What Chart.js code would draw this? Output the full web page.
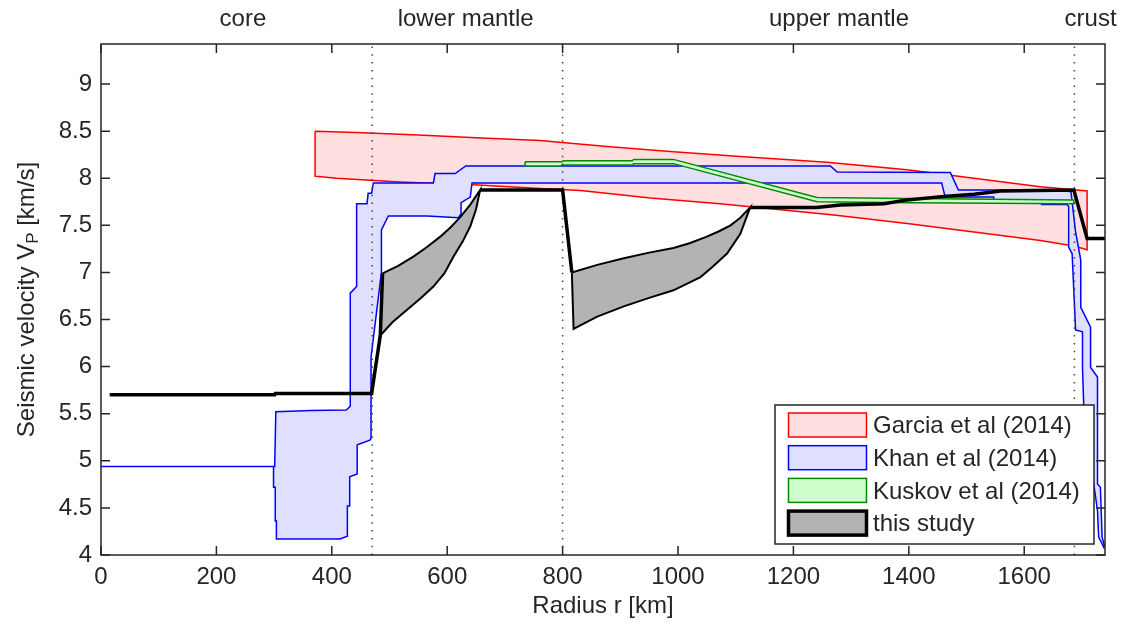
<!DOCTYPE html>
<html>
<head>
<meta charset="utf-8">
<script src="https://cdn.jsdelivr.net/npm/chart.js@4.4.1/dist/chart.umd.min.js"></script>
<style>
    html, body { margin: 0; padding: 0; background: #fff; }
    #wrap { width: 1124px; height: 624px; }
</style>
</head>
<body>
<div id="wrap"><canvas id="vp-profil" width="1124" height="624"></canvas></div>
<script>

// Achsen: Radius in km, Geschwindigkeit in km/s
const rMax = 1740;
const vMin = 4;
const vMax = 9.425;
const xTicks = [0, 200, 400, 600, 800, 1000, 1200, 1400, 1600];
const yTicks = [4, 4.5, 5, 5.5, 6, 6.5, 7, 7.5, 8, 8.5, 9];

// Schichtgrenzen (gepunktet) und Beschriftung oben
const grenzen = [470, 800, 1687];
const schichtNamen = ['core', 'lower mantle', 'upper mantle', 'crust'];
const schichtMitte = [246, 632, 1279, 1715];

// Garcia et al (2014)
const garciaObenR = [371, 442, 550, 650, 761, 877, 992, 1108, 1258, 1397, 1513, 1628, 1709];
const garciaObenV = [8.50, 8.485, 8.46, 8.43, 8.40, 8.336, 8.28, 8.23, 8.17, 8.09, 8.00, 7.91, 7.865];
const garciaUntenR = [372, 408, 518, 645, 761, 831, 952, 1073, 1270, 1397, 1513, 1628, 1686, 1709];
const garciaUntenV = [8.02, 8.0, 7.96, 7.93, 7.89, 7.87, 7.79, 7.73, 7.61, 7.52, 7.43, 7.34, 7.28, 7.24];

// Khan et al (2014): aeusserer und innerer Rand, jeweils von r=0 bis zur Oberflaeche
const khanObenR = [0, 301, 303, 364, 425, 432, 432, 443, 443, 461, 463, 469, 472, 576, 579, 614, 632, 1264, 1276, 1472, 1486, 1628, 1681, 1686, 1689, 1698, 1698, 1715, 1715, 1727, 1727, 1732, 1735, 1739];
const khanObenV = [4.94, 4.94, 5.52, 5.535, 5.54, 5.58, 6.78, 6.85, 7.73, 7.73, 7.84, 7.84, 7.95, 7.95, 8.05, 8.05, 8.13, 8.13, 8.065, 8.06, 7.875, 7.875, 7.86, 7.59, 7.43, 7.13, 6.63, 6.42, 5.99, 5.89, 4.755, 4.72, 4.19, 4.10];
const khanUntenR = [0, 299, 299, 302, 302, 304, 304, 414, 427, 427, 431, 431, 444, 444, 466, 468, 468, 486, 486, 498, 565, 619, 624, 624, 640, 643, 1457, 1463, 1547, 1547, 1628, 1630, 1674, 1677, 1677, 1683, 1689, 1701, 1701, 1703, 1715, 1727, 1729, 1738];
const khanUntenV = [4.94, 4.94, 4.72, 4.72, 4.36, 4.36, 4.17, 4.17, 4.20, 4.52, 4.52, 4.83, 4.86, 5.17, 5.22, 5.24, 6.10, 7.0, 7.45, 7.60, 7.60, 7.58, 7.62, 7.74, 7.80, 7.95, 7.95, 7.80, 7.80, 7.77, 7.77, 7.72, 7.72, 7.70, 7.27, 7.20, 6.39, 6.37, 5.99, 5.61, 5.0, 4.47, 4.19, 4.08];

// Kuskov et al (2014)
const kuskovObenR = [735, 799, 801, 921, 923, 992, 1241, 1400, 1686];
const kuskovObenV = [8.175, 8.175, 8.185, 8.185, 8.20, 8.20, 7.795, 7.785, 7.77];
const kuskovUntenR = [735, 797, 799, 921, 923, 992, 1241, 1400, 1686];
const kuskovUntenV = [8.13, 8.13, 8.14, 8.14, 8.155, 8.155, 7.75, 7.74, 7.73];

// this study: Profil (null = Unterbruch) und die beiden Unsicherheitsbereiche
const studieR = [15, 301, 302, 469, 484, 488, 560, 657, 800, 816, 970, 1125, 1240, 1281, 1357, 1397, 1466, 1513, 1559, 1686, 1709, 1740];
const studieV = [5.70, 5.70, 5.715, 5.715, 6.33, 6.99, null, 7.875, 7.875, 7.0, null, 7.69, 7.69, 7.715, 7.73, 7.77, 7.81, 7.83, 7.865, 7.875, 7.36, 7.36];
const unten1ObenR = [488, 515, 542, 565, 588, 606, 623, 640, 657];
const unten1ObenV = [6.99, 7.07, 7.17, 7.27, 7.38, 7.48, 7.59, 7.72, 7.875];
const unten1UntenR = [484, 505, 530, 555, 576, 595, 611, 627, 640, 650, 657];
const unten1UntenV = [6.33, 6.47, 6.60, 6.73, 6.85, 6.99, 7.17, 7.33, 7.49, 7.67, 7.875];
const oben2ObenR = [816, 860, 906, 950, 992, 1020, 1050, 1072, 1091, 1108, 1125];
const oben2ObenV = [7.0, 7.08, 7.15, 7.21, 7.26, 7.31, 7.38, 7.44, 7.50, 7.58, 7.69];
const oben2UntenR = [819, 860, 906, 950, 992, 1039, 1060, 1085, 1108, 1125];
const oben2UntenV = [6.40, 6.53, 6.64, 6.73, 6.81, 6.95, 7.06, 7.20, 7.41, 7.69];

const textFarbe = '#262626';
const schrift = 'Liberation Sans, Arial, Helvetica, sans-serif';

Chart.defaults.font.family = schrift;
Chart.defaults.font.size = 24;
Chart.defaults.color = textFarbe;

function punkte(rs, vs) {
    return rs.map(function (r, i) {
        return {x: r, y: vs[i]};
    });
}

function flaeche(obenR, obenV, untenR, untenV) {
    /*
        Schliesst oberen und unteren Rand zu einem Polygon.
     */
    let oben = punkte(obenR, obenV);
    let unten = punkte(untenR, untenV).reverse();
    return oben.concat(unten, [oben[0]]);
}

function band(label, data, rand, fuellung, order, breite = 1.5) {
    return {
        label: label,
        data: data,
        showLine: true,
        fill: 'shape',
        borderColor: rand,
        backgroundColor: fuellung,
        borderWidth: breite,
        pointRadius: 0,
        pointHoverRadius: 0,
        tension: 0,
        order: order
    };
}

let datasets = [
    band('Garcia et al (2014)', flaeche(garciaObenR, garciaObenV, garciaUntenR, garciaUntenV), '#ff0000', '#ffdfdf', 6),
    band('Khan et al (2014)', flaeche(khanObenR, khanObenV, khanUntenR, khanUntenV), '#0000ff', '#e0e0fe', 5),
    band('Kuskov et al (2014)', flaeche(kuskovObenR, kuskovObenV, kuskovUntenR, kuskovUntenV), '#008a00', '#ccffcc', 4),
    band('this study', flaeche(unten1ObenR, unten1ObenV, unten1UntenR, unten1UntenV), '#000000', '#b3b3b3', 3, 2),
    band('', flaeche(oben2ObenR, oben2ObenV, oben2UntenR, oben2UntenV), '#000000', '#b3b3b3', 3, 2)
];
datasets[3].legendRand = 3.5;

for (let i = 0; i < grenzen.length; i++) {
    datasets.push({
        label: '',
        data: [{x: grenzen[i], y: vMin}, {x: grenzen[i], y: vMax}],
        showLine: true,
        borderColor: '#444444',
        borderWidth: 1.5,
        borderDash: [1.5, 6.3],
        pointRadius: 0,
        fill: false,
        order: 2
    });
}

datasets.push({
    label: '',
    data: punkte(studieR, studieV),
    showLine: true,
    spanGaps: false,
    borderColor: '#000000',
    borderWidth: 3.5,
    pointRadius: 0,
    fill: false,
    order: 1
});

const rahmen = {
    id: 'rahmen',
    afterDraw(chart) {
        /*
            Achsenrahmen mit Ticks nach innen, Schichtnamen, y-Titel mit Index und Legende.
         */
        const ctx = chart.ctx;
        const a = chart.chartArea;
        const x = chart.scales.x;
        const y = chart.scales.y;
        const tl = 9;

        ctx.save();
        ctx.strokeStyle = textFarbe;
        ctx.lineWidth = 1.5;
        ctx.strokeRect(a.left, a.top, a.right - a.left, a.bottom - a.top);
        ctx.beginPath();
        for (let i = 0; i < xTicks.length; i++) {
            let px = x.getPixelForValue(xTicks[i]);
            ctx.moveTo(px, a.bottom);
            ctx.lineTo(px, a.bottom - tl);
            ctx.moveTo(px, a.top);
            ctx.lineTo(px, a.top + tl);
        }
        for (let i = 0; i < yTicks.length; i++) {
            let py = y.getPixelForValue(yTicks[i]);
            ctx.moveTo(a.left, py);
            ctx.lineTo(a.left + tl, py);
            ctx.moveTo(a.right, py);
            ctx.lineTo(a.right - tl, py);
        }
        ctx.stroke();

        // Schichtnamen
        ctx.fillStyle = textFarbe;
        ctx.font = '24px ' + schrift;
        ctx.textAlign = 'center';
        ctx.textBaseline = 'alphabetic';
        for (let i = 0; i < schichtNamen.length; i++) {
            ctx.fillText(schichtNamen[i], x.getPixelForValue(schichtMitte[i]), 26);
        }

        // y-Titel mit tiefgestelltem P
        let t1 = 'Seismic velocity V';
        let t2 = 'P';
        let t3 = ' [km/s]';
        ctx.font = '24px ' + schrift;
        let w1 = ctx.measureText(t1).width;
        let w3 = ctx.measureText(t3).width;
        ctx.font = '17px ' + schrift;
        let w2 = ctx.measureText(t2).width;
        let start = -(w1 + w2 + w3) / 2;
        ctx.translate(27, (a.top + a.bottom) / 2);
        ctx.rotate(-Math.PI / 2);
        ctx.textAlign = 'left';
        ctx.textBaseline = 'middle';
        ctx.font = '24px ' + schrift;
        ctx.fillText(t1, start, 0);
        ctx.font = '17px ' + schrift;
        ctx.fillText(t2, start + w1, 6);
        ctx.font = '24px ' + schrift;
        ctx.fillText(t3, start + w1 + w2, 0);
        ctx.restore();

        // Legende unten rechts im Diagramm
        let eintraege = chart.data.datasets.filter(function (ds) { return ds.label; });
        let bw = 319;
        let bh = 139;
        let bx = a.right - 11 - bw;
        let by = a.bottom - 11 - bh;
        ctx.save();
        ctx.fillStyle = '#ffffff';
        ctx.fillRect(bx, by, bw, bh);
        ctx.strokeStyle = textFarbe;
        ctx.lineWidth = 1.5;
        ctx.strokeRect(bx, by, bw, bh);
        ctx.font = '24px ' + schrift;
        ctx.textAlign = 'left';
        ctx.textBaseline = 'middle';
        for (let i = 0; i < eintraege.length; i++) {
            let ds = eintraege[i];
            let cy = by + 20 + i * 32.7;
            ctx.fillStyle = ds.backgroundColor;
            ctx.fillRect(bx + 13.5, cy - 12, 78, 24);
            ctx.strokeStyle = ds.borderColor;
            ctx.lineWidth = ds.legendRand || 1.5;
            ctx.strokeRect(bx + 13.5, cy - 12, 78, 24);
            ctx.fillStyle = textFarbe;
            ctx.fillText(ds.label, bx + 98, cy + 1.5);
        }
        ctx.restore();
    }
};

function tickText(wert) {
    // ohne Tausendertrennzeichen und ohne ".0"
    return String(wert);
}

new Chart(document.getElementById('vp-profil'), {
    type: 'scatter',
    data: {datasets: datasets},
    options: {
        responsive: false,
        animation: false,
        devicePixelRatio: 1,
        layout: {padding: {top: 44, right: 19, left: 0, bottom: 0}},
        plugins: {
            legend: {display: false},
            tooltip: {enabled: false}
        },
        scales: {
            x: {
                type: 'linear',
                min: 0,
                max: rMax,
                grid: {display: false, drawTicks: false},
                border: {display: false},
                afterBuildTicks: function (s) { s.ticks = xTicks.map(function (v) { return {value: v}; }); },
                afterFit: function (s) { s.height = 69; },
                ticks: {padding: 8, autoSkip: false, maxRotation: 0, callback: tickText},
                title: {display: true, text: 'Radius r [km]', padding: {top: 0, bottom: 3}}
            },
            y: {
                type: 'linear',
                min: vMin,
                max: vMax,
                grid: {display: false, drawTicks: false},
                border: {display: false},
                afterBuildTicks: function (s) { s.ticks = yTicks.map(function (v) { return {value: v}; }); },
                afterFit: function (s) { s.width = 101; },
                ticks: {padding: 9, autoSkip: false, callback: tickText}
            }
        }
    },
    plugins: [rahmen]
});

</script>
</body>
</html>
